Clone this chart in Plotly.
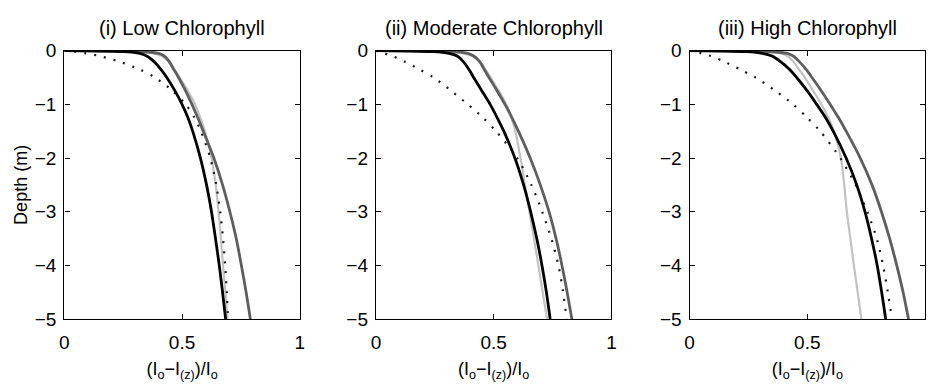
import plotly.graph_objects as go

# ---- data ----
panel_titles = ["(i) Low Chlorophyll", "(ii) Moderate Chlorophyll", "(iii) High Chlorophyll"]
y_ticks = [0, -1, -2, -3, -4, -5]
x_ticks = [0, 0.5, 1]

# common depth grid (m)
depth = [0, -0.02, -0.05, -0.1, -0.2, -0.35, -0.5, -0.75, -1.0, -1.25, -1.5, -2.0, -2.5, -3.0, -3.5, -4.0, -4.5, -5.0]

# Panel (i) low chlorophyll
p1_black = [0, 0.25, 0.32, 0.35, 0.38, 0.41, 0.435, 0.47, 0.50, 0.525, 0.545, 0.578, 0.604, 0.625, 0.642, 0.658, 0.672, 0.685]
p1_dgray = [0, 0.33, 0.40, 0.425, 0.445, 0.465, 0.485, 0.515, 0.542, 0.567, 0.59, 0.635, 0.672, 0.703, 0.73, 0.752, 0.772, 0.79]
p1_lgray = [0, 0.30, 0.38, 0.415, 0.44, 0.465, 0.49, 0.525, 0.555, 0.578, 0.597, 0.625, 0.643, 0.655, 0.665, 0.674, 0.684, 0.693]
p1_dots = [0, 0.04, 0.09, 0.15, 0.23, 0.32, 0.385, 0.46, 0.515, 0.553, 0.58, 0.62, 0.645, 0.662, 0.674, 0.683, 0.69, 0.695]

# Panel (ii) moderate chlorophyll
p2_black = [0, 0.24, 0.31, 0.345, 0.37, 0.395, 0.415, 0.45, 0.485, 0.515, 0.543, 0.59, 0.627, 0.657, 0.683, 0.705, 0.724, 0.74]
p2_dgray = [0, 0.32, 0.39, 0.415, 0.44, 0.46, 0.48, 0.515, 0.548, 0.578, 0.605, 0.655, 0.698, 0.735, 0.765, 0.79, 0.812, 0.832]
p2_lgray = [0, 0.30, 0.37, 0.41, 0.44, 0.465, 0.487, 0.522, 0.553, 0.575, 0.592, 0.614, 0.633, 0.652, 0.671, 0.69, 0.708, 0.727]
p2_dots = [0, 0.015, 0.035, 0.07, 0.12, 0.185, 0.245, 0.32, 0.39, 0.455, 0.51, 0.60, 0.66, 0.706, 0.745, 0.775, 0.795, 0.81]

# Panel (iii) high chlorophyll
p3_black = [0, 0.24, 0.31, 0.35, 0.385, 0.425, 0.455, 0.50, 0.54, 0.578, 0.61, 0.665, 0.71, 0.745, 0.773, 0.797, 0.816, 0.833]
p3_dgray = [0, 0.34, 0.415, 0.44, 0.465, 0.495, 0.52, 0.56, 0.597, 0.633, 0.665, 0.725, 0.775, 0.815, 0.85, 0.88, 0.907, 0.93]
p3_lgray = [0, 0.32, 0.39, 0.415, 0.44, 0.465, 0.49, 0.525, 0.56, 0.59, 0.613, 0.643, 0.657, 0.668, 0.683, 0.698, 0.714, 0.73]
p3_dots = [0, 0.02, 0.05, 0.09, 0.145, 0.215, 0.28, 0.365, 0.44, 0.50, 0.555, 0.64, 0.705, 0.755, 0.795, 0.822, 0.842, 0.86]

panels = [
    (p1_black, p1_dgray, p1_lgray, p1_dots),
    (p2_black, p2_dgray, p2_lgray, p2_dots),
    (p3_black, p3_dgray, p3_lgray, p3_dots),
]

W, H = 930, 384
doms_px = [(60, 298), (375, 613), (692, 930)]
y_px = (43, 327)  # top, bottom

fig = go.Figure()
font_fam = "Liberation Sans, Arial, Helvetica, sans-serif"
tick_font = dict(size=19, color="black", family=font_fam)

for i, (bx, gx, lx, dx) in enumerate(panels):
    xa = "x" if i == 0 else f"x{i+1}"
    ya = "y" if i == 0 else f"y{i+1}"
    common = dict(xaxis=xa, yaxis=ya, showlegend=False, hoverinfo="skip", mode="lines")
    fig.add_trace(go.Scatter(x=lx, y=depth, line=dict(color="#c2c2c2", width=2.2, shape="spline", smoothing=0.8), **common))
    fig.add_trace(go.Scatter(x=dx, y=depth, line=dict(color="#1a1a1a", width=2.2, dash="2px,8px", shape="spline", smoothing=0.8), **common))
    fig.add_trace(go.Scatter(x=gx, y=depth, line=dict(color="#5e5e5e", width=2.8, shape="spline", smoothing=0.8), **common))
    fig.add_trace(go.Scatter(x=bx, y=depth, line=dict(color="#000000", width=2.8, shape="spline", smoothing=0.8), **common))

    x0, x1 = doms_px[i]
    xkey = "xaxis" if i == 0 else f"xaxis{i+1}"
    ykey = "yaxis" if i == 0 else f"yaxis{i+1}"
    fig.layout[xkey] = dict(
        domain=[x0 / W, x1 / W], range=[0, 1], anchor=ya,
        tickvals=x_ticks, ticktext=["0", "0.5", "1"] if i < 2 else ["0", "0.5", ""],
        ticks="inside", ticklen=5, tickcolor="black", showline=True, linecolor="black", linewidth=1.3,
        mirror="ticks", showgrid=False, zeroline=False, ticklabelstandoff=6,
        tickfont=tick_font,
        title=dict(text="(I<sub>o</sub>−I<sub>(z)</sub>)/I<sub>o</sub>",
                   font=dict(size=18, color="black", family=font_fam), standoff=10),
    )
    fig.layout[ykey] = dict(
        domain=[1 - y_px[1] / H, 1 - y_px[0] / H], range=[-5, 0], anchor=xa,
        tickvals=y_ticks, ticks="inside", ticklen=5, tickcolor="black",
        showline=True, linecolor="black", linewidth=1.3, mirror="ticks", showgrid=False, zeroline=False,
        ticklabelstandoff=3, tickfont=tick_font,
        title=dict(text="Depth (m)" if i == 0 else "", font=dict(size=18, color="black", family=font_fam), standoff=2),
    )
    fig.add_annotation(text=panel_titles[i], x=(x0 + x1) / 2 / W, y=1 - 19 / H, xref="paper", yref="paper",
                       showarrow=False, xanchor="center", yanchor="middle",
                       font=dict(size=20, color="black", family=font_fam))

fig.update_layout(width=W, height=H, margin=dict(l=0, r=0, t=0, b=0),
                  paper_bgcolor="white", plot_bgcolor="white")
fig.write_html("out.html")
